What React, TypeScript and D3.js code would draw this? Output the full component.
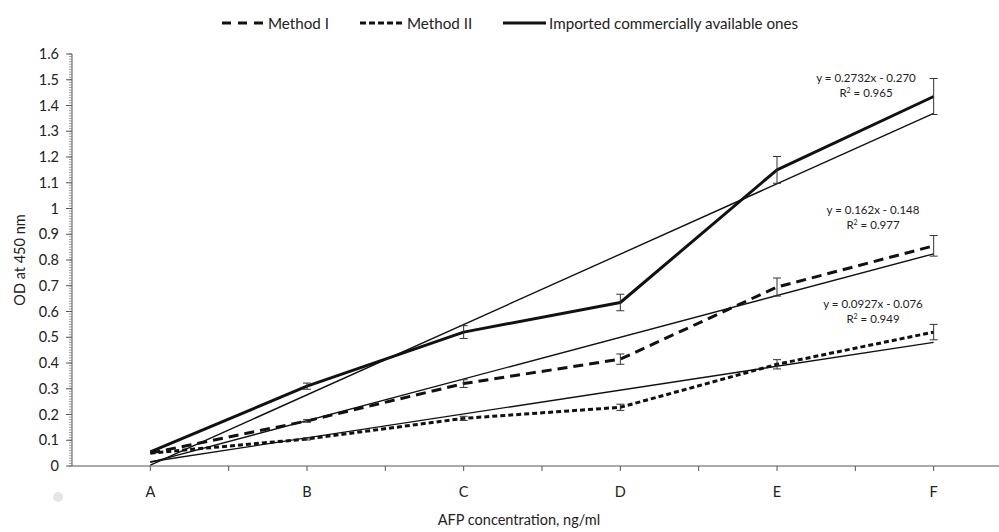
import React from "react";
import * as d3 from "d3";

const categories = ["A", "B", "C", "D", "E", "F"];
const seriesNames = ["Method I", "Method II", "Imported commercially available ones"];
const methodI = [0.05, 0.175, 0.32, 0.415, 0.695, 0.855];
const methodIErr = [0, 0.005, 0.015, 0.02, 0.035, 0.04];
const methodII = [0.05, 0.105, 0.185, 0.228, 0.395, 0.52];
const methodIIErr = [0, 0.004, 0.008, 0.012, 0.018, 0.03];
const imported = [0.055, 0.31, 0.52, 0.635, 1.15, 1.435];
const importedErr = [0, 0.012, 0.025, 0.032, 0.052, 0.07];
const trendSlopes = [0.162, 0.0927, 0.2732];
const trendIntercepts = [-0.148, -0.076, -0.27];
const equations = ["y = 0.162x - 0.148", "y = 0.0927x - 0.076", "y = 0.2732x - 0.270"];
const r2 = ["0.977", "0.949", "0.965"];
const yTicks = d3.range(0, 17).map((i) => i / 10);

const W = 999, H = 532;
const font = "Lato, 'Open Sans', sans-serif";

export default function App() {
  const left = 72, right = 1012, top = 54, bottom = 466;
  const x = d3.scaleBand<string>().domain(categories).range([left, right]);
  const y = d3.scaleLinear().domain([0, 1.6]).range([bottom, top]);
  const cx = (c: string) => (x(c) as number) + x.bandwidth() / 2;
  const line = d3.line<number>().x((_, i) => cx(categories[i])).y((v) => y(v));

  const series = [
    { vals: methodI, err: methodIErr, dash: "10,6", w: 3 },
    { vals: methodII, err: methodIIErr, dash: "5,3", w: 3 },
    { vals: imported, err: importedErr, dash: "", w: 3 },
  ];
  const eqPos = [
    { x: 873, y: 214 },
    { x: 873, y: 308 },
    { x: 866, y: 82 },
  ];
  const minor = d3.range(0, 161).map((i) => i / 100);

  return (
    <svg width={W} height={H} style={{ display: "block", position: "absolute", left: 0, top: 0 }}>
      <rect width={W} height={H} fill="#fff" />
      {/* legend */}
      <g fontFamily={font} fontSize={15.2} fill="#222">
        <line x1={222} x2={264} y1={23} y2={23} stroke="#111" strokeWidth={3} strokeDasharray="9,7" />
        <text x={268} y={28.5}>{seriesNames[0]}</text>
        <line x1={360} x2={404} y1={23} y2={23} stroke="#111" strokeWidth={3} strokeDasharray="6,3" />
        <text x={407} y={28.5}>{seriesNames[1]}</text>
        <line x1={503} x2={546} y1={23} y2={23} stroke="#111" strokeWidth={3} />
        <text x={549} y={28.5}>{seriesNames[2]}</text>
      </g>
      {/* y axis */}
      <line x1={left} x2={left} y1={y(1.6)} y2={bottom} stroke="#555" strokeWidth={1} />
      {minor.map((v, i) => (
        <line key={"m" + i} x1={left - 3} x2={left} y1={y(v)} y2={y(v)} stroke="#777" strokeWidth={0.7} />
      ))}
      {yTicks.map((v) => (
        <g key={"t" + v}>
          <line x1={left - 6} x2={left} y1={y(v)} y2={y(v)} stroke="#555" strokeWidth={1} />
          <text x={left - 13} y={y(v) + 5} textAnchor="end" fontFamily={font} fontSize={14.5} fill="#222">
            {d3.format("~g")(v)}
          </text>
        </g>
      ))}
      {/* x axis */}
      <line x1={left} x2={right} y1={bottom} y2={bottom} stroke="#555" strokeWidth={1} />
      {categories.map((c) => (
        <g key={c}>
          <line x1={(x(c) as number) + x.bandwidth()} x2={(x(c) as number) + x.bandwidth()} y1={bottom} y2={bottom + 5} stroke="#555" />
          <line x1={cx(c)} x2={cx(c)} y1={bottom} y2={bottom + 5} stroke="#555" />
          <text x={cx(c)} y={497} textAnchor="middle" fontFamily={font} fontSize={14.5} fill="#222">{c}</text>
        </g>
      ))}
      <circle cx={58} cy={497} r={5} fill="#e6e6e6" />
      <text x={519} y={525} textAnchor="middle" fontFamily={font} fontSize={14.5} fill="#222">AFP concentration, ng/ml</text>
      <text transform={`translate(25,${(top + bottom) / 2}) rotate(-90)`} textAnchor="middle" fontFamily={font} fontSize={14.5} fill="#222">OD at 450 nm</text>
      {/* trendlines */}
      {trendSlopes.map((s, k) => (
        <line key={"tr" + k} x1={cx(categories[0])} x2={cx(categories[5])}
          y1={y(s * 1 + trendIntercepts[k])} y2={y(s * 6 + trendIntercepts[k])}
          stroke="#111" strokeWidth={1.4} />
      ))}
      {/* series */}
      {series.map((s, k) => (
        <g key={"s" + k}>
          <path d={line(s.vals) || ""} fill="none" stroke="#111" strokeWidth={s.w} strokeDasharray={s.dash || undefined} strokeLinejoin="round" />
          {s.vals.map((v, i) => s.err[i] > 0 ? (
            <g key={i} stroke="#333" strokeWidth={1}>
              <line x1={cx(categories[i])} x2={cx(categories[i])} y1={y(v - s.err[i])} y2={y(v + s.err[i])} />
              <line x1={cx(categories[i]) - 4} x2={cx(categories[i]) + 4} y1={y(v - s.err[i])} y2={y(v - s.err[i])} />
              <line x1={cx(categories[i]) - 4} x2={cx(categories[i]) + 4} y1={y(v + s.err[i])} y2={y(v + s.err[i])} />
            </g>
          ) : null)}
        </g>
      ))}
      {/* equations */}
      {equations.map((e, k) => (
        <g key={"eq" + k} fontFamily={font} fontSize={11.5} fill="#222" textAnchor="middle">
          <text x={eqPos[k].x} y={eqPos[k].y}>{e}</text>
          <text x={eqPos[k].x} y={eqPos[k].y + 15}>R<tspan dy={-4} fontSize={7}>2</tspan><tspan dy={4}> = {r2[k]}</tspan></text>
        </g>
      ))}
    </svg>
  );
}
